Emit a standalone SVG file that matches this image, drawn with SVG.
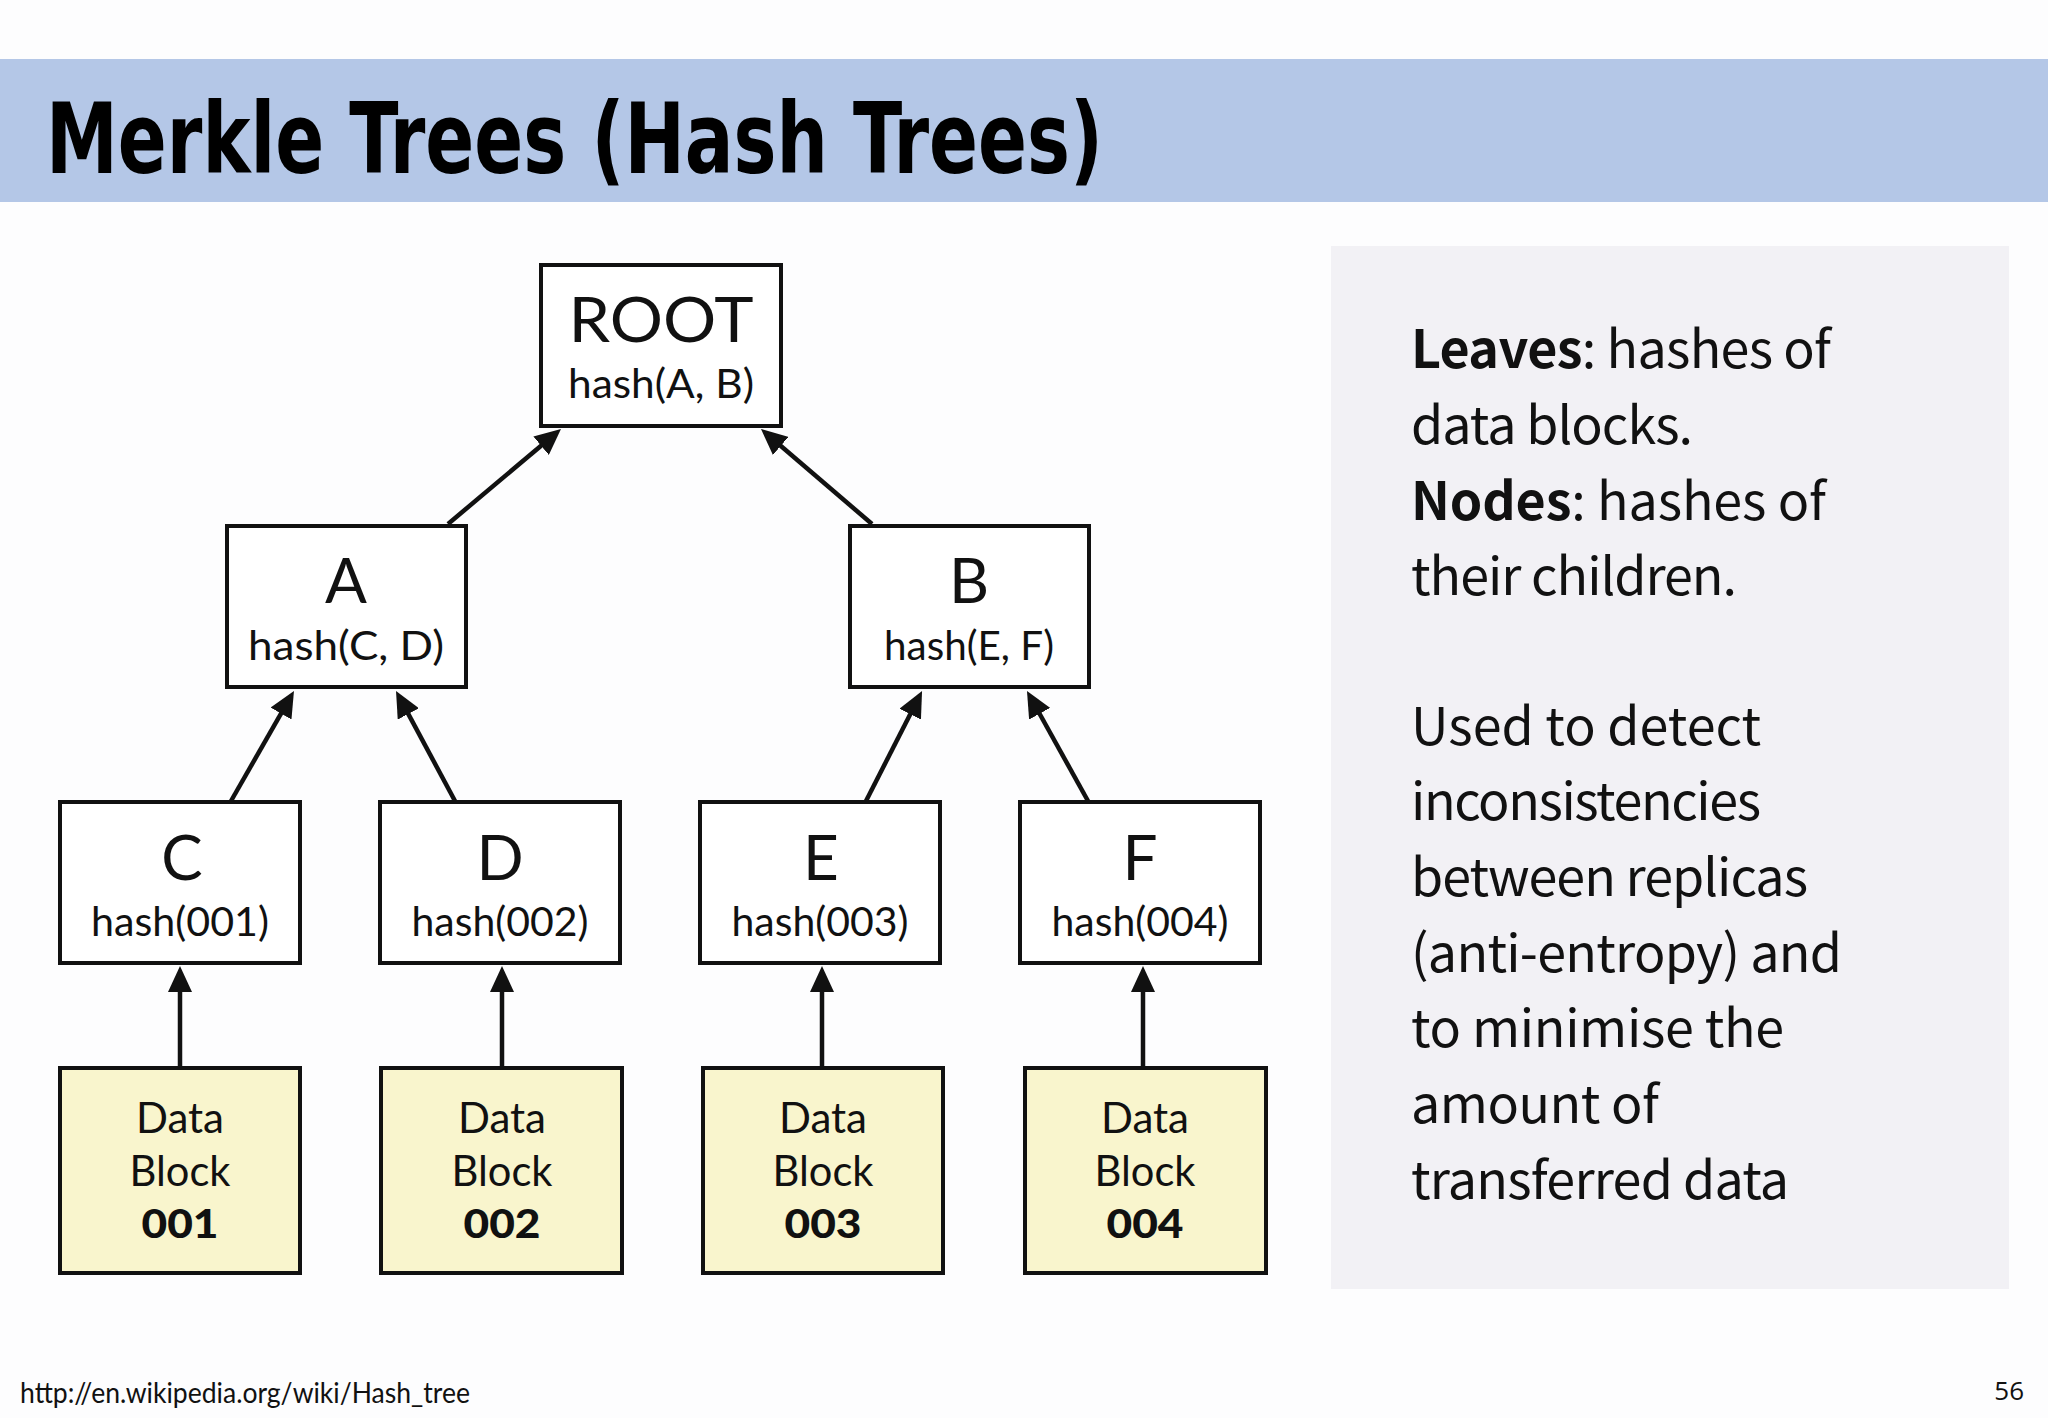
<svg xmlns="http://www.w3.org/2000/svg" width="2048" height="1418" viewBox="0 0 2048 1418">
<style>
.box{fill:#ffffff;stroke:#111111;stroke-width:4}
.data{fill:#f9f5cd;stroke:#111111;stroke-width:4}
.big{font-family:Lato,"Open Sans",sans-serif;font-size:62px;fill:#111111;text-anchor:middle}
.hash{font-family:Lato,"Open Sans",sans-serif;font-size:41px;fill:#111111;text-anchor:middle}
.dt{font-family:Lato,"Open Sans",sans-serif;font-size:42px;fill:#111111;text-anchor:middle}
.dn{font-family:Lato,"Open Sans",sans-serif;font-size:40px;font-weight:900;fill:#111111;text-anchor:middle}
.side{font-family:"Noto Sans CJK KR","Open Sans",sans-serif;font-size:52px;fill:#111111}
.conn line{stroke:#111111;stroke-width:4.5;fill:none}
</style>
<defs>
<marker id="ah" markerUnits="userSpaceOnUse" markerWidth="26" markerHeight="24" refX="14" refY="12" orient="auto">
<path d="M0,0 L26,12 L0,24 z" fill="#111111"/>
</marker>
</defs>
<rect x="0" y="0" width="2048" height="1418" fill="#fdfdfe"/>
<g id="title">
<rect x="0" y="59" width="2048" height="143" fill="#b4c7e7"/>
<text x="46" y="173" font-family="'DejaVu Sans Condensed','DejaVu Sans',sans-serif" font-weight="bold" font-size="98" textLength="1057" lengthAdjust="spacingAndGlyphs" fill="#000000">Merkle Trees (Hash Trees)</text>
</g>
<g id="panel">
<rect x="1331" y="246" width="678" height="1043" fill="#f2f1f5"/>
<text class="side" x="1411" y="368" textLength="420" lengthAdjust="spacing"><tspan font-weight="bold">Leaves</tspan>: hashes of</text>
<text class="side" x="1411" y="444" textLength="282" lengthAdjust="spacing">data blocks.</text>
<text class="side" x="1411" y="520" textLength="415" lengthAdjust="spacing"><tspan font-weight="bold">Nodes</tspan>: hashes of</text>
<text class="side" x="1411" y="595" textLength="326" lengthAdjust="spacing">their children.</text>
<text class="side" x="1411" y="745" textLength="350" lengthAdjust="spacing">Used to detect</text>
<text class="side" x="1411" y="820" textLength="350" lengthAdjust="spacing">inconsistencies</text>
<text class="side" x="1411" y="896" textLength="397" lengthAdjust="spacing">between replicas</text>
<text class="side" x="1411" y="972" textLength="431" lengthAdjust="spacing">(anti-entropy) and</text>
<text class="side" x="1411" y="1047" textLength="373" lengthAdjust="spacing">to minimise the</text>
<text class="side" x="1411" y="1123" textLength="248" lengthAdjust="spacing">amount of</text>
<text class="side" x="1411" y="1199" textLength="378" lengthAdjust="spacing">transferred data</text>
</g>
<g id="connectors" class="conn">
<line x1="448" y1="524" x2="551.8" y2="436.7" marker-end="url(#ah)"/>
<line x1="872" y1="524" x2="770.1" y2="436.8" marker-end="url(#ah)"/>
<line x1="231" y1="801" x2="288" y2="701.4" marker-end="url(#ah)"/>
<line x1="455" y1="801" x2="401.7" y2="701.6" marker-end="url(#ah)"/>
<line x1="866" y1="801" x2="916.6" y2="701.7" marker-end="url(#ah)"/>
<line x1="1088" y1="801" x2="1032.8" y2="701.5" marker-end="url(#ah)"/>
<line x1="180" y1="1068" x2="180" y2="978" marker-end="url(#ah)"/>
<line x1="502" y1="1068" x2="502" y2="978" marker-end="url(#ah)"/>
<line x1="822" y1="1068" x2="822" y2="978" marker-end="url(#ah)"/>
<line x1="1143" y1="1068" x2="1143" y2="978" marker-end="url(#ah)"/>
</g>
<g id="root">
<rect class="box" x="541" y="265" width="240" height="161"/>
<text class="big" x="661" y="342" textLength="185" lengthAdjust="spacingAndGlyphs">ROOT</text>
<text class="hash" x="661" y="398" textLength="186" lengthAdjust="spacingAndGlyphs">hash(A, B)</text>
</g>
<g id="node-a">
<rect class="box" x="227" y="526" width="239" height="161"/>
<text class="big" x="346" y="603">A</text>
<text class="hash" x="346" y="660" textLength="196" lengthAdjust="spacingAndGlyphs">hash(C, D)</text>
</g>
<g id="node-b">
<rect class="box" x="850" y="526" width="239" height="161"/>
<text class="big" x="969" y="603">B</text>
<text class="hash" x="969" y="660" textLength="170" lengthAdjust="spacingAndGlyphs">hash(E, F)</text>
</g>
<g id="node-c">
<rect class="box" x="60" y="802" width="240" height="161"/>
<text class="big" x="182" y="880">C</text>
<text class="hash" x="180" y="936" textLength="178" lengthAdjust="spacingAndGlyphs">hash(001)</text>
</g>
<g id="node-d">
<rect class="box" x="380" y="802" width="240" height="161"/>
<text class="big" x="500" y="880">D</text>
<text class="hash" x="500" y="936" textLength="177" lengthAdjust="spacingAndGlyphs">hash(002)</text>
</g>
<g id="node-e">
<rect class="box" x="700" y="802" width="240" height="161"/>
<text class="big" x="821" y="880">E</text>
<text class="hash" x="820" y="936" textLength="177" lengthAdjust="spacingAndGlyphs">hash(003)</text>
</g>
<g id="node-f">
<rect class="box" x="1020" y="802" width="240" height="161"/>
<text class="big" x="1140" y="880">F</text>
<text class="hash" x="1140" y="936" textLength="177" lengthAdjust="spacingAndGlyphs">hash(004)</text>
</g>
<g id="data-001">
<rect class="data" x="60" y="1068" width="240" height="205"/>
<text class="dt" x="180" y="1133" textLength="88" lengthAdjust="spacingAndGlyphs">Data</text>
<text class="dt" x="180" y="1186" textLength="101" lengthAdjust="spacingAndGlyphs">Block</text>
<text class="dn" x="180" y="1238" textLength="77" lengthAdjust="spacingAndGlyphs">001</text>
</g>
<g id="data-002">
<rect class="data" x="381" y="1068" width="241" height="205"/>
<text class="dt" x="502" y="1133" textLength="88" lengthAdjust="spacingAndGlyphs">Data</text>
<text class="dt" x="502" y="1186" textLength="101" lengthAdjust="spacingAndGlyphs">Block</text>
<text class="dn" x="502" y="1238" textLength="77" lengthAdjust="spacingAndGlyphs">002</text>
</g>
<g id="data-003">
<rect class="data" x="703" y="1068" width="240" height="205"/>
<text class="dt" x="823" y="1133" textLength="88" lengthAdjust="spacingAndGlyphs">Data</text>
<text class="dt" x="823" y="1186" textLength="101" lengthAdjust="spacingAndGlyphs">Block</text>
<text class="dn" x="823" y="1238" textLength="77" lengthAdjust="spacingAndGlyphs">003</text>
</g>
<g id="data-004">
<rect class="data" x="1025" y="1068" width="241" height="205"/>
<text class="dt" x="1145" y="1133" textLength="88" lengthAdjust="spacingAndGlyphs">Data</text>
<text class="dt" x="1145" y="1186" textLength="101" lengthAdjust="spacingAndGlyphs">Block</text>
<text class="dn" x="1145" y="1238" textLength="77" lengthAdjust="spacingAndGlyphs">004</text>
</g>
<g id="footer">
<text x="20" y="1403" font-family="Lato,'Open Sans',sans-serif" font-size="28" textLength="450" lengthAdjust="spacingAndGlyphs" fill="#111111">http://en.wikipedia.org/wiki/Hash_tree</text>
<text x="2024" y="1400" font-family="'Open Sans',sans-serif" font-size="26" text-anchor="end" fill="#111111">56</text>
</g>
</svg>
